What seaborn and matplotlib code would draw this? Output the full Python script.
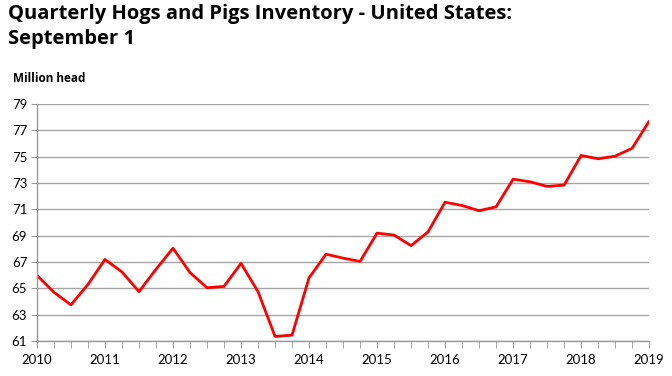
import numpy as np
import pandas as pd
import matplotlib
matplotlib.use("Agg")
import matplotlib.pyplot as plt
import seaborn as sns
from matplotlib.ticker import MultipleLocator

# quarterly inventory, million head
quarters = [2010 + 0.25 * i for i in range(37)]
inventory = [66.0, 64.7, 63.75, 65.3, 67.2, 66.25, 64.75, 66.45, 68.05,
             66.2, 65.05, 65.15, 66.9, 64.75, 61.35, 61.45, 65.8, 67.6,
             67.3, 67.05, 69.2, 69.05, 68.25, 69.3, 71.55, 71.3, 70.9,
             71.2, 73.3, 73.1, 72.75, 72.85, 75.1, 74.85, 75.05, 75.65, 77.7]
year_ticks = list(range(2010, 2020))
y_ticks = list(range(61, 80, 2))

df = pd.DataFrame({"quarter": quarters, "inventory": inventory})

sns.set_style("white")
plt.rcParams['font.family'] = ['Lato', 'DejaVu Sans']
plt.rcParams['text.color'] = 'black'
plt.rcParams['xtick.labelcolor'] = 'black'
plt.rcParams['ytick.labelcolor'] = 'black'

fig = plt.figure(figsize=(6.72, 3.76), dpi=100)
ax = fig.add_axes([0.055, 0.093, 0.911, 0.63])

sns.lineplot(data=df, x="quarter", y="inventory", color="#ff0000", linewidth=2, ax=ax)

ax.set_xlim(2010, 2019)
ax.set_ylim(61, 79)
ax.set_xticks(year_ticks)
ax.set_xticklabels([str(y) for y in year_ticks], fontsize=9.5)
ax.xaxis.set_minor_locator(MultipleLocator(0.25))
ax.set_yticks(y_ticks)
ax.set_yticklabels([str(y) for y in y_ticks], fontsize=9.5)
ax.tick_params(axis="x", which="both", direction="out", length=5, color="#999999",
               bottom=True, pad=4, labelcolor="black")
ax.tick_params(axis="y", direction="out", length=4, color="#999999", left=True, pad=3,
               labelcolor="black")
ax.grid(axis="y", color="#a6a6a6", linewidth=1)
ax.grid(axis="x", visible=False)
ax.set_axisbelow(True)
for s in ["top", "right"]:
    ax.spines[s].set_visible(False)
for s in ["left", "bottom"]:
    ax.spines[s].set_color("#999999")
    ax.spines[s].set_linewidth(1)
ax.set_xlabel("")
ax.set_ylabel("")

fig.text(0.012, 0.99, "Quarterly Hogs and Pigs Inventory - United States:\nSeptember 1",
         fontsize=14.5, fontweight="bold", family=["Open Sans", "DejaVu Sans"],
         color="black", va="top", ha="left", linespacing=1.32)
fig.text(0.02, 0.792, "Million head", fontsize=8.5, fontweight="bold",
         family=["Open Sans", "DejaVu Sans"], color="black", va="center", ha="left")

fig.savefig("out.png", dpi=100)
